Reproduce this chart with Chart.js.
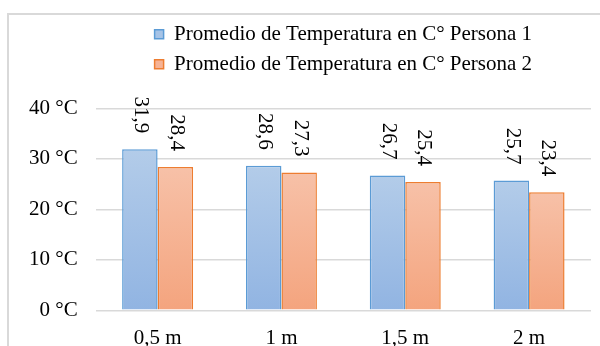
<!DOCTYPE html>
<html>
<head>
<meta charset="utf-8">
<script src="https://cdn.jsdelivr.net/npm/chart.js@4/dist/chart.umd.min.js"></script>
<style>
  html, body { margin: 0; padding: 0; background: #fff; }
  #wrap { width: 600px; height: 346px; }
</style>
</head>
<body>
<div id="wrap"><canvas id="c" width="600" height="346"></canvas></div>
<script>
// Distances and mean temperatures
const categories = ['0,5 m', '1 m', '1,5 m', '2 m'];
const persona1 = [31.9, 28.6, 26.7, 25.7];
const persona2 = [28.4, 27.3, 25.4, 23.4];
const seriesNames = ['Promedio de Temperatura en C° Persona 1', 'Promedio de Temperatura en C° Persona 2'];
const yTicks = [0, 10, 20, 30, 40];

const FONT = 'Liberation Serif, "Times New Roman", serif';
const FONT_SIZE = 21;
const palette = [
  { top: '#b3cce9', bottom: '#91b4e2', border: '#5b9bd5', legend: '#a6c3e6' },
  { top: '#f7c1a8', bottom: '#f4a47e', border: '#ed7d31', legend: '#f6b395' }
];

function barGradient(ctx, idx) {
  const chart = ctx.chart;
  const pal = palette[idx];
  if (ctx.type !== 'data' || !chart.chartArea || !chart.scales.y) return pal.legend;
  const y = chart.scales.y;
  const top = y.getPixelForValue(ctx.raw);
  const bottom = y.getPixelForValue(0);
  const g = chart.ctx.createLinearGradient(0, top, 0, bottom);
  g.addColorStop(0, pal.top);
  g.addColorStop(1, pal.bottom);
  return g;
}

// Empty layout box that keeps space between the legend and the plot
const LEGEND_GAP = 23.6;
const gapBox = {
  position: 'top', weight: 500, fullSize: false, options: {},
  left: 0, top: 0, right: 0, bottom: 0, width: 0, height: 0,
  isHorizontal() { return true; },
  getPadding() { return { left: 0, top: 0, right: 0, bottom: 0 }; },
  update(maxWidth) { this.width = maxWidth; this.height = LEGEND_GAP; },
  draw() {}
};
const gapPlugin = {
  id: 'legendGap',
  beforeInit(chart) { Chart.layouts.addBox(chart, gapBox); }
};

// Light frame around the whole chart
const framePlugin = {
  id: 'frame',
  beforeDraw(chart) {
    const c = chart.ctx;
    c.save();
    c.fillStyle = '#fff';
    c.fillRect(0, 0, chart.width, chart.height);
    c.strokeStyle = '#d9d9d9';
    c.lineWidth = 2;
    c.strokeRect(8, 14, 700, 400);
    c.restore();
  }
};

// Vertical value labels above each bar
const valueLabels = {
  id: 'valueLabels',
  afterDatasetsDraw(chart) {
    const c = chart.ctx;
    c.save();
    c.font = FONT_SIZE + 'px ' + FONT;
    c.fillStyle = '#000';
    c.textAlign = 'right';
    c.textBaseline = 'middle';
    chart.data.datasets.forEach((ds, di) => {
      const meta = chart.getDatasetMeta(di);
      meta.data.forEach((bar, i) => {
        const txt = ds.data[i].toFixed(1).replace('.', ',');
        c.save();
        c.translate(bar.x + 1, bar.y - 16);
        c.rotate(Math.PI / 2);
        c.fillText(txt, 0, 0);
        c.restore();
      });
    });
    c.restore();
  }
};

new Chart(document.getElementById('c'), {
  type: 'bar',
  data: {
    labels: categories,
    datasets: [
      {
        label: seriesNames[0], data: persona1,
        backgroundColor: ctx => barGradient(ctx, 0),
        borderColor: palette[0].border, borderWidth: 1.5, borderSkipped: 'bottom'
      },
      {
        label: seriesNames[1], data: persona2,
        backgroundColor: ctx => barGradient(ctx, 1),
        borderColor: palette[1].border, borderWidth: 1.5, borderSkipped: 'bottom'
      }
    ]
  },
  options: {
    responsive: false,
    animation: false,
    devicePixelRatio: 1,
    layout: { padding: { left: 8, right: 9, top: 14.7, bottom: 0 } },
    datasets: { bar: { barPercentage: 1, categoryPercentage: 0.573 } },
    plugins: {
      tooltip: { enabled: false },
      legend: {
        position: 'top',
        fullSize: false,
        labels: {
          font: { family: FONT, size: FONT_SIZE },
          color: '#000',
          boxWidth: 9,
          boxHeight: 9,
          padding: 9,
          generateLabels: () => seriesNames.map((name, i) => ({
            text: name,
            fillStyle: palette[i].legend,
            strokeStyle: palette[i].border,
            lineWidth: 1.5,
            hidden: false,
            datasetIndex: i,
            fontColor: '#000'
          }))
        }
      }
    },
    scales: {
      x: {
        grid: { display: false, drawTicks: false },
        border: { display: false },
        ticks: { font: { family: FONT, size: FONT_SIZE }, color: '#000', padding: 16 },
        afterFit(s) { s.height = 35.7; }
      },
      y: {
        min: 0, max: 40,
        afterBuildTicks(s) { s.ticks = yTicks.map(v => ({ value: v })); },
        grid: { color: '#d9d9d9', lineWidth: 1.5, drawTicks: false },
        border: { display: false },
        ticks: {
          font: { family: FONT, size: FONT_SIZE }, color: '#000', padding: 18,
          callback: v => v + ' °C'
        },
        afterFit(s) { s.width = 87.7; }
      }
    }
  },
  plugins: [framePlugin, gapPlugin, valueLabels]
});
</script>
</body>
</html>
